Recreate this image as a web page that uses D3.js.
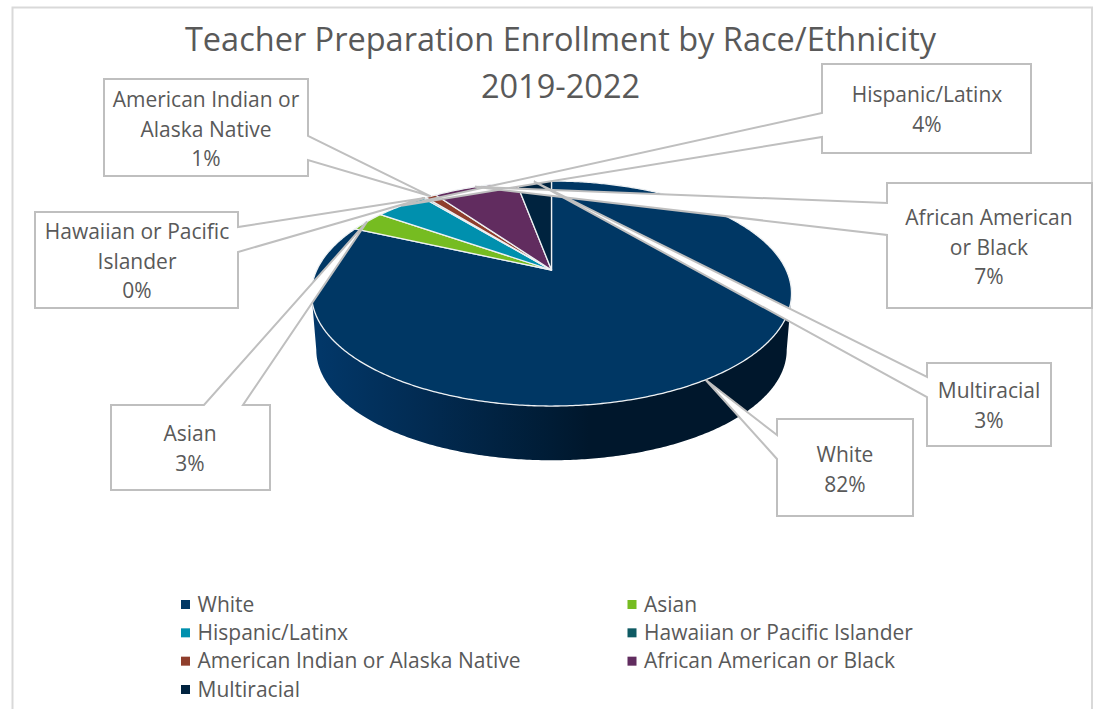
<!DOCTYPE html>
<html><head><meta charset="utf-8">
<script src="https://cdn.jsdelivr.net/npm/d3@7"></script>
<style>
html,body{margin:0;padding:0;background:#fff;overflow:hidden}
svg{display:block}
text{font-family:"Open Sans",Lato,sans-serif;fill:#595959}
</style></head><body>
<svg id="c" width="1099" height="709"></svg>
<script>
const categories = ["White","Asian","Hispanic/Latinx","Hawaiian or Pacific Islander","American Indian or Alaska Native","African American or Black","Multiracial"];
const values = [81.8, 3.0, 4.3, 0.2, 0.9, 6.9, 2.9];
const percentLabels = ["82%","3%","4%","0%","1%","7%","3%"];
const colors = ["#003764","#76bc21","#0090ae","#0e5a63","#8f3e2c","#612c5f","#00233f"];
const titleLines = ["Teacher Preparation Enrollment by Race/Ethnicity","2019-2022"];

// callout label lines, in category order
const calloutLines = [["White"],["Asian"],["Hispanic/Latinx"],["Hawaiian or Pacific","Islander"],["American Indian or","Alaska Native"],["African American","or Black"],["Multiracial"]];
// box geometry: x0,x1,y0,y1, attachment side, the two pointer-base offsets, text centre, first baseline
const calloutBoxes = [
 {x0:777,x1:913,y0:419,y1:516,side:"left",a:435,b:459,cx:845,base:462},
 {x0:111,x1:270,y0:405,y1:490,side:"top",a:204,b:243,cx:190,base:441},
 {x0:822,x1:1031,y0:64,y1:153,side:"left",a:113,b:137,cx:927,base:102},
 {x0:35,x1:238,y0:212,y1:308,side:"right",a:227,b:252,cx:137,base:239},
 {x0:104,x1:308,y0:79,y1:176,side:"right",a:136,b:160,cx:206,base:107},
 {x0:887,x1:1092,y0:183,y1:308,side:"left",a:203,b:235,cx:989,base:225},
 {x0:927,x1:1051,y0:363,y1:446,side:"left",a:377,b:397,cx:989,base:398}
];
const legendRows = [[0,1],[2,3],[4,5],[6]];

const svg = d3.select("#c");
const defs = svg.append("defs");
const grad = defs.append("linearGradient").attr("id","wall").attr("gradientUnits","userSpaceOnUse")
  .attr("x1",312).attr("x2",790).attr("y1",0).attr("y2",0);
[[0,"#02386a"],[0.25,"#022a50"],[0.5,"#001c35"],[0.58,"#00172c"],[1,"#00172c"]]
  .forEach(s=>grad.append("stop").attr("offset",s[0]).attr("stop-color",s[1]));

// chart frame
svg.append("path").attr("d","M12.5,709V7.5H1092V709").attr("fill","none").attr("stroke","#d9d9d9").attr("stroke-width",2);

// title
titleLines.forEach((t,i)=>svg.append("text").attr("x",560.5).attr("y",[51,98][i])
  .attr("text-anchor","middle").attr("font-size",32.5).text(t));

// perspective projection of the pie disc
const cx=551.5, cy=270, A=107.6, B=234.7, k=0.209;
function proj(theta,r=1,scale=1,dy=0){
  const u=r*Math.sin(theta), v=r*Math.cos(theta), w=1+k*v;
  return [cx+scale*B*u/w, cy+(scale*A*(-v)/w)+dy+(1-scale)*23.5];
}
const line=d3.line();
function arcPts(a0,a1,fn){
  const n=Math.max(2,Math.ceil(Math.abs(a1-a0)/0.01));
  return d3.range(n+1).map(i=>fn(a0+(a1-a0)*i/n));
}

const pie=d3.pie().sort(null).value(d=>d);
const arcs=pie(values);

// side wall (front of the white slice)
const t0=Math.acos(-k), t1=2*Math.PI-t0;
const wallPts=arcPts(t0,t1,t=>proj(t)).concat(arcPts(t1,t0,t=>proj(t,1,0.98,56.5)));
svg.append("path").attr("d",line(wallPts)+"Z").attr("fill","url(#wall)");

// top faces
svg.append("g").selectAll("path").data(arcs).join("path")
  .attr("d",d=>line([[cx,cy]].concat(arcPts(d.startAngle,d.endAngle,t=>proj(t))))+"Z")
  .attr("fill",(d,i)=>colors[i])
  .attr("stroke","#eef1f3").attr("stroke-width",1.3).attr("stroke-linejoin","round");

// callouts: pointer tips come from each slice's mid angle
const co=svg.append("g");
arcs.forEach((d,i)=>{
  const b=calloutBoxes[i];
  const tip=proj((d.startAngle+d.endAngle)/2);
  let pts;
  if(b.side==="left") pts=[[b.x0,b.y0],[b.x1,b.y0],[b.x1,b.y1],[b.x0,b.y1],[b.x0,b.b],tip,[b.x0,b.a]];
  else if(b.side==="right") pts=[[b.x0,b.y0],[b.x1,b.y0],[b.x1,b.a],tip,[b.x1,b.b],[b.x1,b.y1],[b.x0,b.y1]];
  else pts=[[b.x0,b.y0],[b.a,b.y0],tip,[b.b,b.y0],[b.x1,b.y0],[b.x1,b.y1],[b.x0,b.y1]];
  co.append("path").attr("d",line(pts)+"Z").attr("fill","#fff").attr("stroke","#bfbfbf").attr("stroke-width",2).attr("stroke-linejoin","miter");
});
arcs.forEach((d,i)=>{
  const b=calloutBoxes[i];
  calloutLines[i].concat([percentLabels[i]]).forEach((t,j)=>{
    co.append("text").attr("x",b.cx).attr("y",b.base+j*29.7).attr("text-anchor","middle").attr("font-size",21).text(t);
  });
});

// legend
const legendX=d3.scalePoint().domain([0,1]).range([181,627.5]);
const legendY=d3.scalePoint().domain(legendRows.map((r,i)=>i)).range([604.5,689.5]);
legendRows.forEach((row,ri)=>row.forEach((c,ci)=>{
  svg.append("rect").attr("x",legendX(ci)).attr("y",legendY(ri)-4.5).attr("width",9).attr("height",9).attr("fill",colors[c]);
  svg.append("text").attr("x",legendX(ci)+16.5).attr("y",legendY(ri)+7).attr("font-size",21).text(categories[c]);
}));
</script></body></html>
